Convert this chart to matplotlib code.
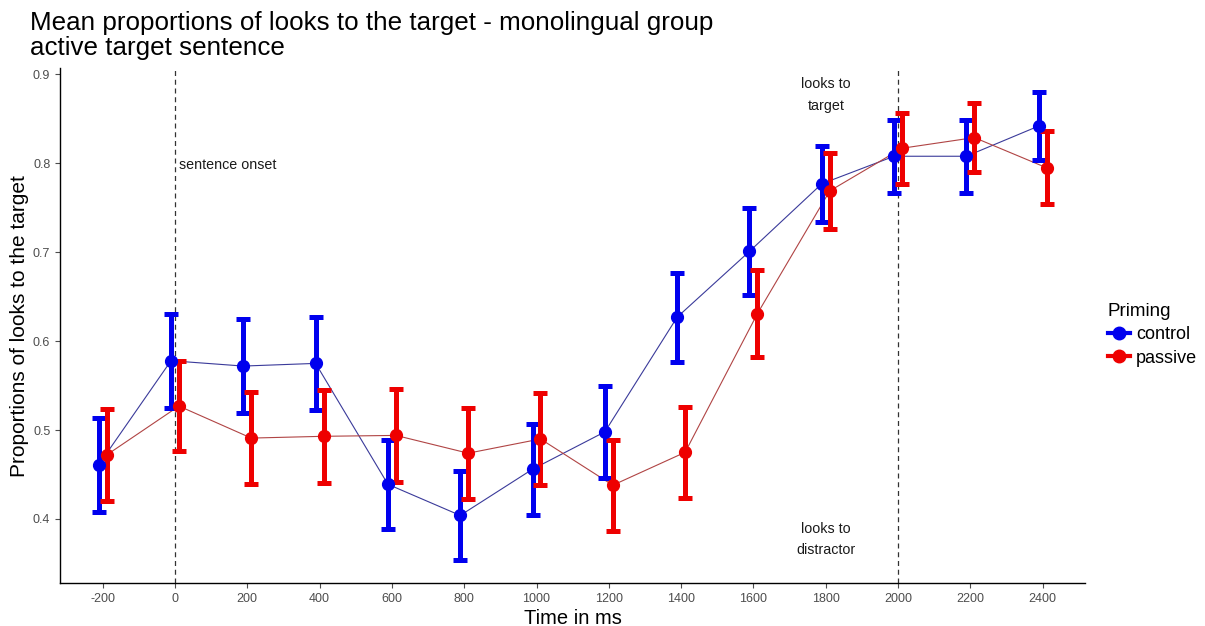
"""Mean proportions of looks to the target, control vs passive priming."""

import numpy as np
import matplotlib
matplotlib.use("Agg")
import matplotlib.pyplot as plt
from matplotlib.lines import Line2D

plt.rcParams["font.family"] = ["Liberation Sans", "DejaVu Sans"]

# time bins (ms)
TIME = [-200, 0, 200, 400, 600, 800, 1000, 1200, 1400, 1600, 1800, 2000, 2200, 2400]

# mean proportions and standard errors
CONTROL_MEAN = [0.461, 0.578, 0.572, 0.575, 0.439, 0.404, 0.456, 0.498,
                0.627, 0.701, 0.777, 0.808, 0.808, 0.842]
CONTROL_SE = [0.053, 0.053, 0.053, 0.052, 0.050, 0.050, 0.051, 0.052,
              0.050, 0.049, 0.043, 0.041, 0.041, 0.038]
PASSIVE_MEAN = [0.472, 0.527, 0.491, 0.493, 0.494, 0.474, 0.490, 0.438,
                0.475, 0.631, 0.769, 0.817, 0.829, 0.795]
PASSIVE_SE = [0.052, 0.051, 0.052, 0.052, 0.052, 0.051, 0.052, 0.051,
              0.051, 0.049, 0.043, 0.040, 0.039, 0.041]

GROUPS = ["control", "passive"]
COLORS = {"control": "#0000ee", "passive": "#ee0000"}
LINE_COLORS = {"control": "#3a3a9a", "passive": "#b04444"}
DODGE = {"control": -11, "passive": 11}

if __name__ == "__main__":
    fig = plt.figure(figsize=(12.05, 6.26), dpi=100)
    ax = fig.add_axes([0.0498, 0.0687, 0.8506, 0.8223])

    data = {"control": (CONTROL_MEAN, CONTROL_SE),
            "passive": (PASSIVE_MEAN, PASSIVE_SE)}

    for g in GROUPS:
        mean, se = data[g]
        x = np.array(TIME) + DODGE[g]
        ax.plot(x, mean, color=LINE_COLORS[g], lw=0.8, zorder=2)
        ax.errorbar(x, mean, yerr=se, fmt="none", ecolor=COLORS[g],
                    elinewidth=3.6, capsize=5, capthick=3.6, zorder=3)
        ax.plot(x, mean, "o", color=COLORS[g], ms=8.5, zorder=4)

    # reference lines: sentence onset and 2000 ms
    for xv in (0, 2000):
        ax.axvline(xv, color="#333333", lw=0.9, ls=(0, (4, 3)), zorder=1)

    ax.text(12, 0.798, "sentence onset", fontsize=10.3, ha="left", va="center",
            color="#1a1a1a")
    ax.text(1800, 0.877, "looks to\ntarget", fontsize=10.3, ha="center",
            va="center", color="#1a1a1a", linespacing=1.7)
    ax.text(1800, 0.377, "looks to\ndistractor", fontsize=10.3, ha="center",
            va="center", color="#1a1a1a", linespacing=1.7)

    ax.set_xlim(-318, 2517)
    ax.set_ylim(0.328, 0.907)
    ax.set_xticks(TIME)
    ax.set_xticklabels([str(t) for t in TIME])
    ax.set_yticks([0.4, 0.5, 0.6, 0.7, 0.8, 0.9])
    ax.tick_params(axis="both", labelsize=9, colors="#4d4d4d", length=3.5,
                   width=0.8)
    for s in ("top", "right"):
        ax.spines[s].set_visible(False)
    for s in ("left", "bottom"):
        ax.spines[s].set_linewidth(1.0)
        ax.spines[s].set_color("black")

    ax.set_xlabel("Time in ms", fontsize=14.5, labelpad=3)
    ax.set_ylabel("Proportions of looks to the target", fontsize=15,
                  labelpad=3)

    fig.text(0.025, 0.982, "Mean proportions of looks to the target - monolingual group\n"
             "active target sentence", fontsize=18.7, ha="left", va="top",
             linespacing=1.05)

    handles = [Line2D([], [], color=COLORS[g], marker="o", ms=9, lw=3)
               for g in GROUPS]
    leg = fig.legend(handles, GROUPS, title="Priming", loc="center left",
                     bbox_to_anchor=(0.909, 0.465), frameon=False, fontsize=13,
                     title_fontsize=13.5, handlelength=1.2, handletextpad=0.35,
                     labelspacing=0.35, borderpad=0.2)
    leg._legend_box.align = "left"

    plt.savefig("out.png", dpi=100)
